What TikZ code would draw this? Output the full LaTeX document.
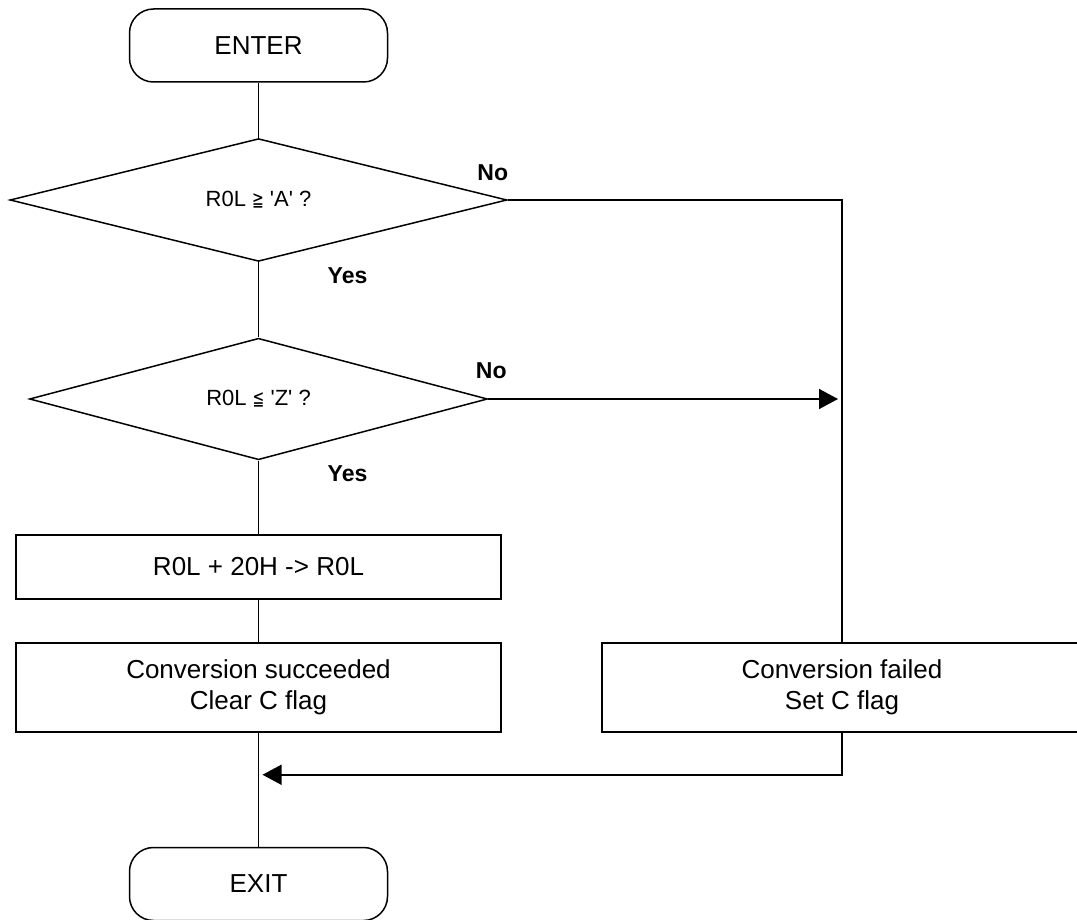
\documentclass[tikz,border=0pt]{standalone}
\usepackage{graphicx}
\usepackage{fontspec}
\newfontfamily\flowfont{Liberation Sans}
\newfontfamily\relfont{DejaVu Sans}
\usetikzlibrary{shapes.geometric}
\usetikzlibrary{arrows.meta, positioning}

\newcommand{\relsym}[1]{\scalebox{0.7}[1]{\relfont\fontsize{20}{20}\selectfont #1}}

\begin{document}
\begin{tikzpicture}[x=1pt, y=-1pt, line width=1.5pt,
    every node/.style={font=\flowfont\fontsize{26}{31}\selectfont, align=center},
    terminal/.style={draw, rounded corners=24pt, minimum width=258pt, minimum height=73pt},
    decision/.style={draw, diamond, inner sep=0pt, minimum height=111pt,
        font=\flowfont\fontsize{22}{26}\selectfont},
    process/.style={draw, minimum width=485pt},
    branch/.style={font=\flowfont\bfseries\fontsize{23}{27}\selectfont},
    flow/.style={-{Triangle[length=19pt, width=20pt]}}
    ]
    \path[use as bounding box, clip] (0,0) rectangle (1077,920);

    \node[terminal] (enter) at (258.5,45.5) {ENTER};
    \node[decision, minimum width=497pt] (geA) at (258.5,200) {R0L \relsym{≧} 'A' ?};
    \node[decision, minimum width=458pt] (leZ) at (258.5,399) {R0L \relsym{≦} 'Z' ?};
    \node[process, minimum height=64pt] (add) at (258.5,567) {R0L + 20H -> R0L};
    \node[process, minimum height=89pt] (ok) at (258.5,687.5) {Conversion succeeded\\Clear C flag};
    \node[process, minimum width=480pt, minimum height=89pt] (ng) at (842,687.5) {Conversion failed\\Set C flag};
    \node[terminal] (exit) at (258.5,884) {EXIT};

    \node[branch] (noA) at ([xshift=-15pt, yshift=27pt]geA.east) {No};
    \node[branch] (yesA) at ([xshift=89pt, yshift=-13.5pt]geA.south) {Yes};
    \node[branch] (noZ) at ([xshift=3pt, yshift=28pt]leZ.east) {No};
    \node[branch] (yesZ) at ([xshift=89pt, yshift=-13.5pt]leZ.south) {Yes};

    \coordinate (join) at (ng.north |- leZ.east);
    \coordinate (merge) at (ok.south |- ng.south);
    \coordinate (merge) at ([yshift=-42pt]merge);

    \draw (enter) -- (geA);
    \draw (geA) -- (leZ);
    \draw (leZ) -- (add);
    \draw (add) -- (ok);
    \draw (ok) -- (exit);
    \draw (geA.east) -| (ng.north);
    \draw[flow] (leZ.east) -- ([xshift=-4pt]join);
    \draw[flow] (ng.south) |- ([xshift=4pt]merge);
\end{tikzpicture}
\end{document}
